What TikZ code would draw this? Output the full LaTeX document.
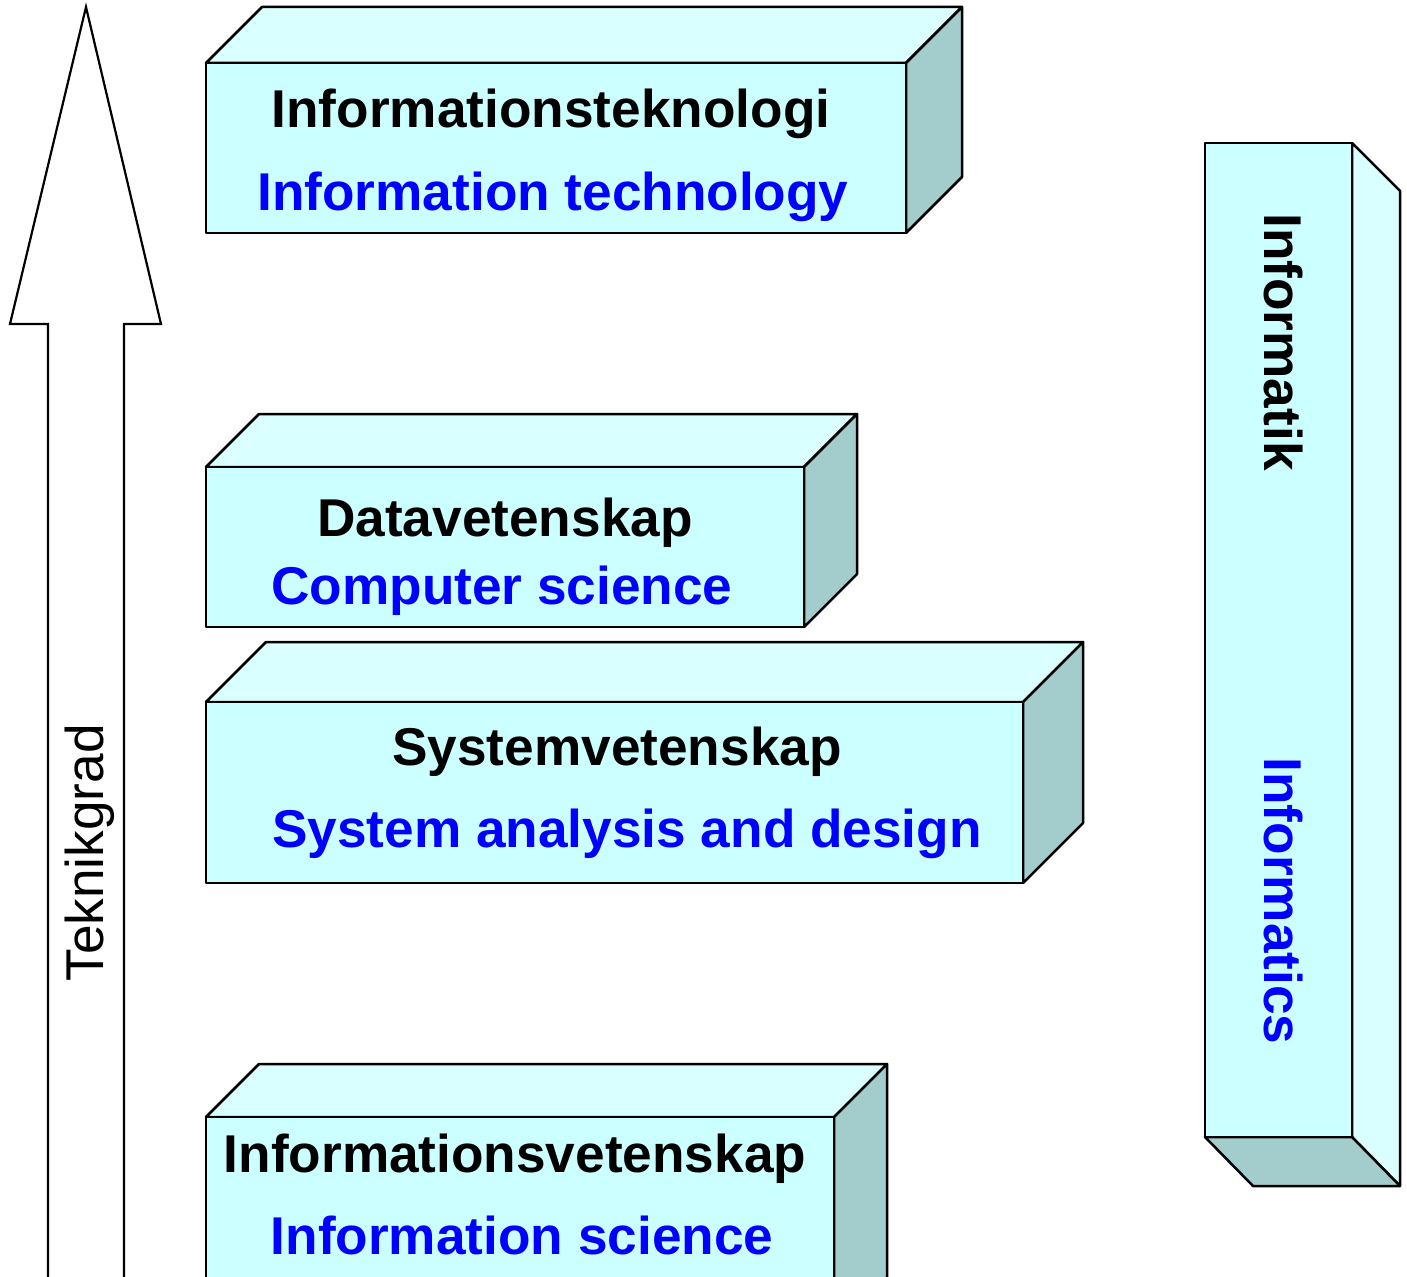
\documentclass[tikz,border=0pt]{standalone}
\usepackage{fontspec}
\setmainfont{Liberation Sans}
\definecolor{frontc}{HTML}{CCFFFF}
\definecolor{topc}{HTML}{D9FFFF}
\definecolor{sidec}{HTML}{A3CCCC}
\definecolor{bluetext}{HTML}{0000FF}
\newcommand\bigfnt{\fontsize{53.2}{60}\selectfont}
\tikzset{
  face/.style={draw=black, line width=2.5pt, line join=round},
  frontface/.style={face, fill=frontc},
  topface/.style={face, fill=topc},
  sideface/.style={face, fill=sidec},
  swtext/.style={inner sep=0pt, anchor=base, font=\bigfnt\bfseries, text=black},
  entext/.style={inner sep=0pt, anchor=base, font=\bigfnt\bfseries, text=bluetext},
  axtext/.style={inner sep=0pt, anchor=base, font=\bigfnt, text=black},
  arrowshape/.style={draw=black, line width=2.2pt, fill=white, line join=miter}
}
% x1 y1 x2 y2 depth  (front face corners, depth goes up-right)
\newcommand\drawcuboid[5]{%
  \filldraw[topface] (#1,#2) -- (#1+#5,#2-#5) -- (#3+#5,#2-#5) -- (#3,#2) -- cycle;
  \filldraw[sideface] (#3,#2) -- (#3+#5,#2-#5) -- (#3+#5,#4-#5) -- (#3,#4) -- cycle;
  \filldraw[frontface] (#1,#2) rectangle (#3,#4);
}
\begin{document}
\begin{tikzpicture}[x=1pt, y=-1pt]
\useasboundingbox (0,0) rectangle (1407,1276);
\fill[white] (0,0) rectangle (1407,1276);

% up arrow
\filldraw[arrowshape] (48,1280) -- (48,324) -- (10,324) -- (86,7) -- (161,324) -- (124,324) -- (124,1280);
\node[axtext, rotate=90] (tek) at (103,853) {Teknikgrad};

% boxes
\drawcuboid{206}{63}{906}{233}{56}
\drawcuboid{206}{467}{804}{627}{53}
\drawcuboid{206}{702}{1023}{883}{60}
\drawcuboid{206}{1117}{834}{1330}{53}

% right vertical box (depth goes down-right)
\filldraw[topface] (1352,143) -- (1400,191) -- (1400,1186) -- (1352,1137) -- cycle;
\filldraw[sideface] (1205,1137) -- (1352,1137) -- (1400,1186) -- (1253,1186) -- cycle;
\filldraw[frontface] (1205,143) rectangle (1352,1137);

% texts
\node[swtext] (t1a) at (551,128) {Informationsteknologi};
\node[entext] (t1b) at (553,211) {Information technology};
\node[swtext] (t2a) at (505,536) {Datavetenskap};
\node[entext] (t2b) at (502,604) {Computer science};
\node[swtext] (t3a) at (617,765) {Systemvetenskap};
\node[entext] (t3b) at (627,847) {System analysis and design};
\node[swtext] (t4a) at (515,1172) {Informationsvetenskap};
\node[entext] (t4b) at (522,1254) {Information science};
\node[swtext, rotate=-90] (inf1) at (1264,342) {Informatik};
\node[entext, rotate=-90] (inf2) at (1264,901) {Informatics};
\end{tikzpicture}
\end{document}
